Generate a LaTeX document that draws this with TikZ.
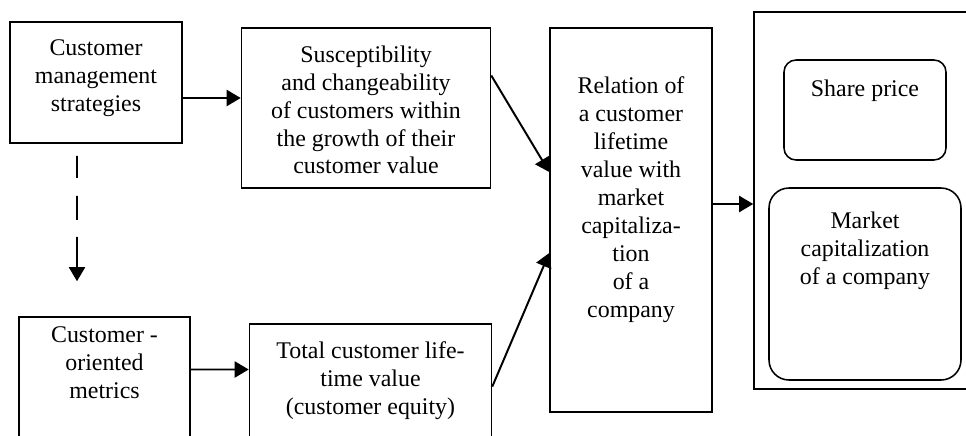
\documentclass[tikz,border=0pt]{standalone}
\usepackage{fontspec}
\setmainfont{Liberation Serif}
\usetikzlibrary{arrows.meta}

\begin{document}
\begin{tikzpicture}[
    box/.style={rectangle, draw, line width=1.1pt, inner sep=0pt},
    rbox/.style={box, rounded corners=0.3cm},
    txt/.style={align=center, inner sep=0pt, anchor=north, font=\fontsize{17}{19.9}\selectfont},
    arrow/.style={-{Triangle[length=0.35cm,width=0.4cm]}, line width=1.4pt}
]
    \useasboundingbox (0,0) rectangle (24.15,-10.875);
    \clip (0,0) rectangle (24.15,-10.875);

    % frames
    \node[box, minimum width=4.3cm, minimum height=3.025cm] (strategies) at (2.4,-2.0625) {};
    \node[box, minimum width=6.225cm, minimum height=4cm] (susceptibility) at (9.15,-2.7) {};
    \node[box, minimum width=4.275cm, minimum height=3.825cm] (metrics) at (2.6125,-9.8375) {};
    \node[box, minimum width=6.05cm, minimum height=3.65cm] (total) at (9.2625,-9.925) {};
    \node[box, minimum width=4.05cm, minimum height=9.6cm] (relation) at (15.775,-5.5) {};
    \node[box, minimum width=6.15cm, minimum height=9.425cm] (market) at (21.925,-5.0125) {};
    \node[rbox, minimum width=4.05cm, minimum height=2.5cm] (share) at (21.625,-2.75) {};
    \node[rbox, rounded corners=0.5cm, minimum width=4.8cm, minimum height=4.8cm] (capital) at (21.625,-7.1) {};

    % texts
    \node[txt, yshift=-0.45cm] (strategiesText) at (strategies.north) {Customer\\management\\strategies};
    \node[txt, yshift=-0.45cm] (susceptibilityText) at (susceptibility.north) {Susceptibility\\and changeability\\of customers within\\the growth of their\\customer value};
    \node[txt, yshift=-0.25cm] (metricsText) at (metrics.north) {Customer -\\oriented\\metrics};
    \node[txt, yshift=-0.45cm] (totalText) at (total.north) {Total customer life-\\time value\\(customer equity)};
    \node[txt, yshift=-1.225cm] (relationText) at (relation.north) {Relation of\\a customer\\lifetime\\value with\\market\\capitaliza-\\tion\\of a\\company};
    \node[txt, yshift=-0.5cm] (shareText) at (share.north) {Share price};
    \node[txt, yshift=-0.6cm] (capitalText) at (capital.north) {Market\\capitalization\\of a company};

    % arrows
    \draw[arrow] ([yshift=-0.3875cm]strategies.east) -- ([yshift=0.25cm]susceptibility.west);
    \draw[arrow] ([yshift=0.6cm]metrics.east) -- ([yshift=0.6875cm]total.west);
    \draw[arrow] ([yshift=0.8125cm]susceptibility.east) -- ([yshift=1.2cm]relation.west);
    \draw[arrow] ([yshift=0.26cm]total.east) -- ([yshift=-0.825cm]relation.west);
    \draw[arrow] ([yshift=0.4cm]relation.east) -- ([yshift=-0.0875cm]market.west);
    \draw[arrow, dash pattern=on 0.55cm off 0.45cm on 0.6cm off 0.425cm on 2cm]
        ([xshift=-0.475cm, yshift=-0.3cm]strategies.south) -- ([xshift=-0.6875cm, yshift=0.875cm]metrics.north);
\end{tikzpicture}
\end{document}
